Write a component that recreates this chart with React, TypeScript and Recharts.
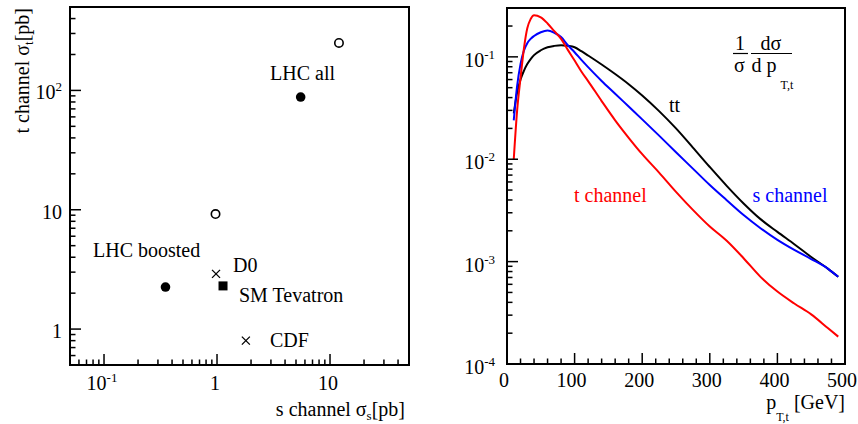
import React from "react"
import { Line, LineChart, ReferenceArea, Scatter, ScatterChart, XAxis, YAxis } from "recharts"

const FONT = "Liberation Serif, Times New Roman, Times, DejaVu Serif, Noto Serif, FreeSerif, serif"

// left panel: s channel vs t channel cross sections [pb]
const openCircleS = [12, 0.97]
const openCircleT = [250, 9.2]
const fullCircleS = [5.5, 0.35]
const fullCircleT = [88, 2.25]
const crossS = [0.98, 1.8]
const crossT = [2.9, 0.8]
const squareS = [1.13]
const squareT = [2.3]

const sTicks = [0.05, 0.06, 0.07, 0.08, 0.09, 0.1, 0.2, 0.3, 0.4, 0.5, 0.6, 0.7, 0.8, 0.9, 1, 2, 3, 4, 5, 6, 7, 8, 9, 10, 20, 30, 40, 50]
const sMajor = [0.1, 1, 10]
const sLabels = [["10", "-1"], ["1", ""], ["10", ""]]
const tTicks = [0.5, 0.6, 0.7, 0.8, 0.9, 1, 2, 3, 4, 5, 6, 7, 8, 9, 10, 20, 30, 40, 50, 60, 70, 80, 90, 100, 200, 300, 400, 500]
const tMajor = [1, 10, 100]
const tLabels = [["1", ""], ["10", ""], ["10", "2"]]

// right panel: normalised pT,t distributions
const pt = [10, 15, 20, 25, 30, 35, 40, 50, 60, 70, 80, 90, 100, 110, 120, 140, 160, 180, 200, 225, 250, 275, 300, 325, 350, 375, 400, 425, 450, 475, 490]
const ttbar = [0.028, 0.045, 0.06, 0.073, 0.085, 0.095, 0.104, 0.116, 0.124, 0.128, 0.13, 0.128, 0.124, 0.1135, 0.103, 0.0841, 0.0679, 0.054, 0.0419, 0.0295, 0.02, 0.013, 0.0084, 0.0055, 0.0037, 0.0026, 0.00195, 0.00148, 0.00111, 0.00085, 0.00071]
const tChannel = [0.01, 0.03, 0.062, 0.12, 0.19, 0.234, 0.255, 0.243, 0.212, 0.178, 0.15, 0.117, 0.092, 0.072, 0.058, 0.037, 0.024, 0.0162, 0.0112, 0.0074, 0.0048, 0.0032, 0.0022, 0.0016, 0.00108, 0.00071, 0.00051, 0.00039, 0.000305, 0.000223, 0.000185]
const sChannel = [0.024, 0.052, 0.085, 0.115, 0.136, 0.15, 0.16, 0.174, 0.181, 0.172, 0.156, 0.13, 0.111, 0.0933, 0.0794, 0.0582, 0.0437, 0.0327, 0.0245, 0.017, 0.0117, 0.0081, 0.0056, 0.00398, 0.00285, 0.00212, 0.00163, 0.0013, 0.00106, 0.00085, 0.00071]

const ptTicks = [0, 20, 40, 60, 80, 100, 120, 140, 160, 180, 200, 220, 240, 260, 280, 300, 320, 340, 360, 380, 400, 420, 440, 460, 480, 500]
const ptMajor = [0, 100, 200, 300, 400, 500]
const ptLabels = [["0", ""], ["100", ""], ["200", ""], ["300", ""], ["400", ""], ["500", ""]]
const fracTicks = [0.0001, 0.0002, 0.0003, 0.0004, 0.0005, 0.0006, 0.0007, 0.0008, 0.0009, 0.001, 0.002, 0.003, 0.004, 0.005, 0.006, 0.007, 0.008, 0.009, 0.01, 0.02, 0.03, 0.04, 0.05, 0.06, 0.07, 0.08, 0.09, 0.1, 0.2, 0.3]
const fracMajor = [0.0001, 0.001, 0.01, 0.1]
const fracLabels = [["10", "-4"], ["10", "-3"], ["10", "-2"], ["10", "-1"]]

const pairs = (xs: number[], ys: number[]) => xs.map((s, i) => ({ s, t: ys[i] }))
const ptRows = pt.map((p, i) => ({ pt: p, tt: ttbar[i], t: tChannel[i], s: sChannel[i] }))

const near = (a: number, b: number) => Math.abs(a - b) <= Math.abs(b) * 1e-6 + 1e-12

const Label = ({ x, y, anchor, lab }: { x: number; y: number; anchor: "middle" | "end"; lab: string[] }) => (
  <text x={x} y={y} textAnchor={anchor} fontFamily={FONT} fontSize={20} fill="#000">
    {lab[0]}
    {lab[1] && (
      <tspan dy={-8} fontSize={13}>
        {lab[1]}
      </tspan>
    )}
  </text>
)

const bottomTick = (axisY: number, major: number[], labels: string[][], dx: number, dy: number) => (p: any) => {
  const v = p.payload.value
  const i = major.findIndex((m) => near(v, m))
  return (
    <g>
      <line x1={p.x} x2={p.x} y1={axisY} y2={axisY - (i >= 0 ? 11 : 5.5)} stroke="#000" strokeWidth={1.5} />
      {i >= 0 && <Label x={p.x + dx} y={axisY + dy} anchor="middle" lab={labels[i]} />}
    </g>
  )
}

const leftTick = (axisX: number, major: number[], labels: string[][], gap: number, dy: number) => (p: any) => {
  const v = p.payload.value
  const i = major.findIndex((m) => near(v, m))
  return (
    <g>
      <line x1={axisX} x2={axisX + (i >= 0 ? 11 : 5.5)} y1={p.y} y2={p.y} stroke="#000" strokeWidth={1.5} />
      {i >= 0 && <Label x={axisX - gap} y={p.y + dy} anchor="end" lab={labels[i]} />}
    </g>
  )
}

const OpenCircle = (p: any) => <circle cx={p.cx} cy={p.cy} r={4.2} fill="#fff" stroke="#000" strokeWidth={1.6} />
const FullCircle = (p: any) => <circle cx={p.cx} cy={p.cy} r={4.8} fill="#000" />
const Square = (p: any) => <rect x={p.cx - 4.5} y={p.cy - 4.5} width={9} height={9} fill="#000" />
const Cross = (p: any) => (
  <path
    d={`M${p.cx - 4},${p.cy - 4}L${p.cx + 4},${p.cy + 4}M${p.cx + 4},${p.cy - 4}L${p.cx - 4},${p.cy + 4}`}
    stroke="#000"
    strokeWidth={1.3}
  />
)

export default function App() {
  return (
    <div style={{ position: "absolute", left: 0, top: 0, width: 858, height: 424, background: "#fff", fontFamily: FONT }}>
      <div style={{ position: "absolute", left: 0, top: 0 }}>
        <ScatterChart width={430} height={424} margin={{ top: 7, right: 21, left: 10, bottom: 9 }}>
          <XAxis
            type="number"
            dataKey="s"
            scale="log"
            domain={[0.05, 50]}
            allowDataOverflow
            ticks={sTicks}
            interval={0}
            axisLine={false}
            tickLine={false}
            tickSize={0}
            height={50}
            tick={bottomTick(365, sMajor, sLabels, -2, 25)}
          />
          <YAxis
            type="number"
            dataKey="t"
            scale="log"
            domain={[0.5, 500]}
            allowDataOverflow
            ticks={tTicks}
            interval={0}
            axisLine={false}
            tickLine={false}
            tickSize={0}
            width={60}
            tick={leftTick(70, tMajor, tLabels, 8, 9)}
          />
          <ReferenceArea x1={0.05} x2={50} y1={0.5} y2={500} fill="none" fillOpacity={0} stroke="#000" strokeWidth={2} />
          <Scatter data={pairs(openCircleS, openCircleT)} shape={OpenCircle} isAnimationActive={false} />
          <Scatter data={pairs(fullCircleS, fullCircleT)} shape={FullCircle} isAnimationActive={false} />
          <Scatter data={pairs(crossS, crossT)} shape={Cross} isAnimationActive={false} />
          <Scatter data={pairs(squareS, squareT)} shape={Square} isAnimationActive={false} />
        </ScatterChart>
      </div>
      <div style={{ position: "absolute", left: 430, top: 0 }}>
        <LineChart width={428} height={424} data={ptRows} margin={{ top: 8, right: 13, left: 10, bottom: 10 }}>
          <XAxis
            type="number"
            dataKey="pt"
            domain={[0, 500]}
            allowDataOverflow
            ticks={ptTicks}
            interval={0}
            axisLine={false}
            tickLine={false}
            tickSize={0}
            height={50}
            tick={bottomTick(364, ptMajor, ptLabels, -3, 23)}
          />
          <YAxis
            type="number"
            scale="log"
            domain={[0.0001, 0.3]}
            allowDataOverflow
            ticks={fracTicks}
            interval={0}
            axisLine={false}
            tickLine={false}
            tickSize={0}
            width={67}
            tick={leftTick(77, fracMajor, fracLabels, 12, 10)}
          />
          <ReferenceArea x1={0} x2={500} y1={0.0001} y2={0.3} fill="none" fillOpacity={0} stroke="#000" strokeWidth={2} />
          <Line type="monotone" dataKey="tt" stroke="#000" strokeWidth={2} dot={false} isAnimationActive={false} />
          <Line type="monotone" dataKey="s" stroke="#0000ff" strokeWidth={2} dot={false} isAnimationActive={false} />
          <Line type="monotone" dataKey="t" stroke="#ff0000" strokeWidth={2} dot={false} isAnimationActive={false} />
        </LineChart>
      </div>
      <svg width={858} height={424} style={{ position: "absolute", left: 0, top: 0, pointerEvents: "none" }}>
        <g fill="#000" fontFamily={FONT} fontSize={20}>
          <text x={270} y={80}>LHC all</text>
          <text x={93} y={256.5}>LHC boosted</text>
          <text x={233} y={271.5}>D0</text>
          <text x={239} y={301.5}>SM Tevatron</text>
          <text x={270} y={346.5}>CDF</text>
          <text x={405} y={416} textAnchor="end">
            s channel σ<tspan fontSize={13} dy={4}>s</tspan>
            <tspan dy={-4}>[pb]</tspan>
          </text>
          <text transform="translate(29,8) rotate(-90)" textAnchor="end">
            t channel σ<tspan fontSize={13} dy={4}>t</tspan>
            <tspan dy={-4}>[pb]</tspan>
          </text>
          <text x={845} y={409} textAnchor="end">
            p<tspan fontSize={12} dy={12}>T,t</tspan>
            <tspan dy={-12}> [GeV]</tspan>
          </text>
          <text x={669} y={111.5}>tt</text>
          <text x={574} y={201.5} fill="#ff0000">t channel</text>
          <text x={752.5} y={201.5} fill="#0000ff">s channel</text>
          <text x={735} y={50}>1</text>
          <text x={734} y={71.5}>σ</text>
          <line x1={733} x2={748} y1={53.5} y2={53.5} stroke="#000" strokeWidth={1.2} />
          <text x={760.5} y={50}>dσ</text>
          <line x1={751} x2={792} y1={53.5} y2={53.5} stroke="#000" strokeWidth={1.2} />
          <text x={751.5} y={71.5}>d p</text>
          <text x={780.5} y={89} fontSize={12}>T,t</text>
        </g>
      </svg>
    </div>
  )
}
